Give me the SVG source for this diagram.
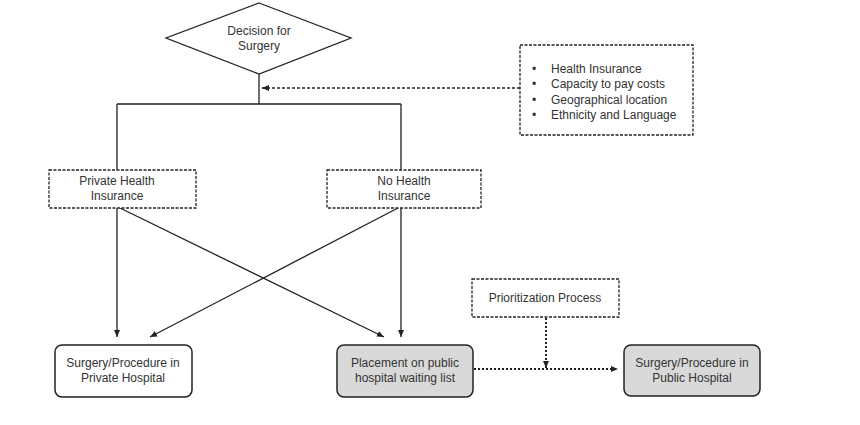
<svg xmlns="http://www.w3.org/2000/svg" width="860" height="425" viewBox="0 0 860 425">
<defs>
<marker id="ah" markerWidth="8" markerHeight="8" refX="7" refY="4" orient="auto" markerUnits="userSpaceOnUse">
<path d="M0,1 L7,4 L0,7 Z" fill="#222"/>
</marker>
<style>
text{font-family:"Liberation Sans",Arial,sans-serif;font-size:12px;fill:#333;text-anchor:middle}
.solid{fill:#fff;stroke:#222;stroke-width:1.3}
.dash{fill:#fff;stroke:#222;stroke-width:1.3;stroke-dasharray:3,1.5}
.round{stroke:#222;stroke-width:1.5}
.ln{fill:none;stroke:#222;stroke-width:1.3}
.dl{fill:none;stroke:#222;stroke-width:1.3;stroke-dasharray:3,2}
.dot{fill:none;stroke:#222;stroke-width:2;stroke-dasharray:2,2}
.l{text-anchor:start}
</style>
</defs>
<rect width="860" height="425" fill="#fff"/>
<g id="connectors">
<path class="ln" d="M259,74 V104 M117,104 H401 M117,104 V170 M401,104 V170"/>
<path class="dl" d="M520,88 H262" marker-end="url(#ah)"/>
<path class="ln" d="M117,208 V337" marker-end="url(#ah)"/>
<path class="ln" d="M120,208 L384,337" marker-end="url(#ah)"/>
<path class="ln" d="M401,208 V337" marker-end="url(#ah)"/>
<path class="ln" d="M398,208 L150,337" marker-end="url(#ah)"/>
<path class="dot" d="M546,318 V368" marker-end="url(#ah)"/>
<path class="dot" d="M474,369 H618" marker-end="url(#ah)"/>
</g>
<g id="decision">
<polygon class="solid" points="259,3 351,38 259,74 166,38"/>
<text x="259" y="35">Decision for</text>
<text x="259" y="50">Surgery</text>
</g>
<g id="factors">
<rect class="dash" x="520" y="45" width="173" height="90"/>
<text x="534" y="72.5">•</text><text class="l" x="551" y="72.5">Health Insurance</text>
<text x="534" y="88">•</text><text class="l" x="551" y="88">Capacity to pay costs</text>
<text x="534" y="103.5">•</text><text class="l" x="551" y="103.5">Geographical location</text>
<text x="534" y="119">•</text><text class="l" x="551" y="119">Ethnicity and Language</text>
</g>
<g id="private-insurance">
<rect class="dash" x="49" y="170" width="147" height="38"/>
<text x="117" y="185">Private Health</text>
<text x="117" y="200">Insurance</text>
</g>
<g id="no-insurance">
<rect class="dash" x="327" y="170" width="154" height="38"/>
<text x="404" y="185">No Health</text>
<text x="404" y="200">Insurance</text>
</g>
<g id="prioritization">
<rect class="dash" x="472" y="279" width="147" height="38"/>
<text x="545" y="302">Prioritization Process</text>
</g>
<g id="private-hospital">
<rect class="round" fill="#fff" x="55" y="345" width="137" height="52" rx="7"/>
<text x="123" y="367">Surgery/Procedure in</text>
<text x="123" y="382">Private Hospital</text>
</g>
<g id="waiting-list">
<rect class="round" fill="#d9d9d9" x="337" y="345" width="136" height="52" rx="7"/>
<text x="405" y="367">Placement on public</text>
<text x="405" y="382">hospital waiting list</text>
</g>
<g id="public-hospital">
<rect class="round" fill="#d9d9d9" x="624" y="345" width="136" height="51" rx="7"/>
<text x="692" y="367">Surgery/Procedure in</text>
<text x="692" y="382">Public Hospital</text>
</g>
</svg>
